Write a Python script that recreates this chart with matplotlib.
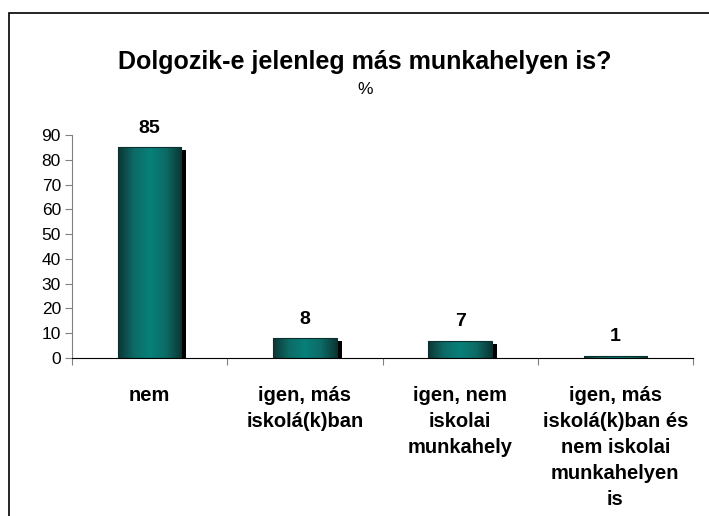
import numpy as np
import matplotlib.pyplot as plt
from matplotlib.patches import Rectangle
from matplotlib.colors import LinearSegmentedColormap

categories = ["nem", "igen, más\niskolá(k)ban", "igen, nem\niskolai\nmunkahely",
              "igen, más\niskolá(k)ban és\nnem iskolai\nmunkahelyen\nis"]
values = [85, 8, 7, 1]
yticks = list(range(0, 100, 10))

plt.rcParams['font.family'] = ['Liberation Sans', 'DejaVu Sans']

fig = plt.figure(figsize=(7.09, 5.16), dpi=100)
ax = fig.add_axes([72 / 709, 1 - 358 / 516, 621 / 709, 223 / 516])

# cylinder-like shading for the bars
shade = LinearSegmentedColormap.from_list(
    "teal", ["#0b3533", "#0d6b66", "#078079", "#0d6b66", "#0b3533"])
grad = np.linspace(0, 1, 256).reshape(1, -1)

x = np.arange(len(values))
width = 0.41
dx, dy = 0.032, 1.2

for xi, v in zip(x, values):
    # shadow behind the bar
    ax.add_patch(Rectangle((xi - width / 2 + dx, 0), width, max(v - dy, 0),
                           facecolor="black", edgecolor="none", zorder=1))
    bar = Rectangle((xi - width / 2, 0), width, v, facecolor="none",
                    edgecolor="#0a3030", linewidth=0.8, zorder=3)
    ax.add_patch(bar)
    im = ax.imshow(grad, cmap=shade, aspect="auto", zorder=2,
                   extent=(xi - width / 2, xi + width / 2, 0, v))
    im.set_clip_path(bar)
    ax.annotate(str(v), (xi, v), xytext=(0, 19), textcoords="offset pixels",
                ha="center", va="center", fontsize=14, fontweight="bold")

ax.set_xlim(-0.5, len(values) - 0.5)
ax.set_ylim(0, 90)
ax.set_yticks(yticks)
ax.tick_params(axis="y", labelsize=12.5, length=5, color="#808080", pad=3)
ax.set_xticks(np.arange(len(values) + 1) - 0.5)
ax.set_xticklabels([])
ax.tick_params(axis="x", length=5, color="#808080")
for xi, lab in zip(x, categories):
    ax.annotate(lab, (xi, 0), xytext=(0, -28), textcoords="offset pixels",
                ha="center", va="top", fontsize=14.5, fontweight="bold",
                linespacing=1.46)

for s in ["top", "right"]:
    ax.spines[s].set_visible(False)
ax.spines["left"].set_color("#808080")
ax.spines["bottom"].set_color("black")

fig.text(0.515, 0.88, "Dolgozik-e jelenleg más munkahelyen is?",
         ha="center", va="center", fontsize=18, fontweight="bold")
fig.text(0.515, 0.826, "%", ha="center", va="center", fontsize=12.5)

# chart border
fig.add_artist(Rectangle((9 / 709, -0.05), 1.05, 1 - 13 / 516 + 0.05,
                         transform=fig.transFigure, facecolor="none",
                         edgecolor="black", linewidth=1.2))

fig.savefig("out.png", dpi=100)
